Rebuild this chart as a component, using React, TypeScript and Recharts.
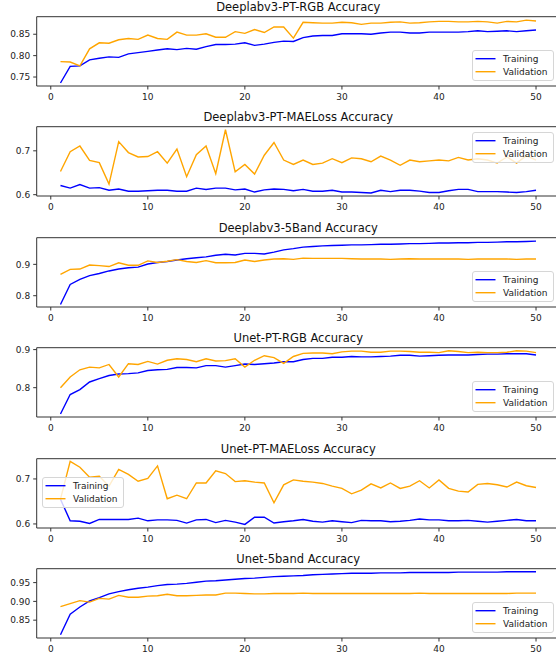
import { LineChart, Line, XAxis, YAxis, Legend, Label, ReferenceLine } from "recharts";

const EPOCHS = [1, 2, 3, 4, 5, 6, 7, 8, 9, 10, 11, 12, 13, 14, 15, 16, 17, 18, 19, 20, 21, 22, 23, 24, 25,
  26, 27, 28, 29, 30, 31, 32, 33, 34, 35, 36, 37, 38, 39, 40, 41, 42, 43, 44, 45, 46, 47, 48, 49, 50];
const X_TICKS = [0, 10, 20, 30, 40, 50];

const deeplabRgbTrain = [0.736, 0.775, 0.776, 0.790, 0.794, 0.797, 0.796, 0.804, 0.807, 0.810,
  0.813, 0.816, 0.814, 0.817, 0.815, 0.821, 0.826, 0.826, 0.827, 0.830,
  0.824, 0.827, 0.831, 0.834, 0.833, 0.842, 0.846, 0.847, 0.847, 0.851,
  0.851, 0.851, 0.850, 0.853, 0.855, 0.855, 0.853, 0.853, 0.855, 0.855,
  0.855, 0.855, 0.856, 0.858, 0.856, 0.857, 0.858, 0.856, 0.858, 0.860];
const deeplabRgbVal = [0.786, 0.785, 0.776, 0.816, 0.830, 0.829, 0.837, 0.840, 0.838, 0.848,
  0.840, 0.838, 0.855, 0.848, 0.848, 0.851, 0.843, 0.843, 0.856, 0.852,
  0.861, 0.854, 0.867, 0.867, 0.841, 0.878, 0.877, 0.876, 0.876, 0.878,
  0.877, 0.873, 0.876, 0.876, 0.878, 0.879, 0.876, 0.877, 0.879, 0.880,
  0.880, 0.879, 0.879, 0.880, 0.879, 0.876, 0.880, 0.879, 0.883, 0.881];

const deeplabMaeTrain = [0.621, 0.615, 0.623, 0.615, 0.616, 0.610, 0.613, 0.608, 0.608, 0.609,
  0.610, 0.610, 0.608, 0.608, 0.615, 0.612, 0.615, 0.615, 0.611, 0.613,
  0.606, 0.611, 0.613, 0.612, 0.609, 0.612, 0.608, 0.608, 0.610, 0.606,
  0.606, 0.605, 0.604, 0.610, 0.607, 0.610, 0.610, 0.608, 0.605, 0.605,
  0.609, 0.612, 0.612, 0.607, 0.607, 0.607, 0.606, 0.605, 0.607, 0.610];
const deeplabMaeVal = [0.653, 0.698, 0.711, 0.678, 0.673, 0.624, 0.721, 0.696, 0.686, 0.687,
  0.698, 0.672, 0.704, 0.641, 0.691, 0.711, 0.648, 0.748, 0.652, 0.669,
  0.647, 0.690, 0.719, 0.679, 0.669, 0.679, 0.669, 0.672, 0.682, 0.673,
  0.684, 0.682, 0.675, 0.688, 0.679, 0.667, 0.679, 0.675, 0.677, 0.679,
  0.677, 0.685, 0.679, 0.682, 0.679, 0.672, 0.686, 0.672, 0.689, 0.679];

const deeplab5Train = [0.772, 0.836, 0.852, 0.864, 0.871, 0.879, 0.885, 0.889, 0.891, 0.901,
  0.906, 0.909, 0.914, 0.918, 0.921, 0.924, 0.929, 0.932, 0.930, 0.935,
  0.935, 0.933, 0.939, 0.946, 0.950, 0.955, 0.957, 0.959, 0.960, 0.961,
  0.962, 0.962, 0.963, 0.964, 0.964, 0.965, 0.966, 0.966, 0.967, 0.968,
  0.968, 0.969, 0.969, 0.970, 0.970, 0.971, 0.972, 0.972, 0.973, 0.974];
const deeplab5Val = [0.868, 0.884, 0.885, 0.898, 0.896, 0.893, 0.905, 0.897, 0.897, 0.911,
  0.906, 0.910, 0.915, 0.909, 0.906, 0.912, 0.905, 0.905, 0.906, 0.914,
  0.909, 0.914, 0.917, 0.918, 0.916, 0.920, 0.919, 0.919, 0.919, 0.919,
  0.918, 0.917, 0.917, 0.917, 0.916, 0.917, 0.918, 0.917, 0.917, 0.917,
  0.917, 0.917, 0.916, 0.917, 0.917, 0.917, 0.917, 0.916, 0.917, 0.917];

const unetRgbTrain = [0.731, 0.782, 0.795, 0.815, 0.824, 0.832, 0.836, 0.837, 0.839, 0.845,
  0.847, 0.848, 0.853, 0.853, 0.852, 0.858, 0.858, 0.854, 0.858, 0.862,
  0.861, 0.863, 0.865, 0.868, 0.868, 0.874, 0.877, 0.877, 0.880, 0.880,
  0.882, 0.881, 0.881, 0.882, 0.883, 0.885, 0.885, 0.883, 0.884, 0.885,
  0.886, 0.886, 0.886, 0.887, 0.888, 0.888, 0.889, 0.889, 0.889, 0.886];
const unetRgbVal = [0.800, 0.828, 0.847, 0.854, 0.852, 0.861, 0.828, 0.863, 0.861, 0.869,
  0.862, 0.872, 0.876, 0.874, 0.868, 0.876, 0.870, 0.871, 0.876, 0.854,
  0.872, 0.884, 0.879, 0.864, 0.882, 0.890, 0.891, 0.891, 0.889, 0.894,
  0.896, 0.896, 0.893, 0.893, 0.896, 0.896, 0.895, 0.893, 0.893, 0.892,
  0.897, 0.895, 0.892, 0.893, 0.892, 0.892, 0.893, 0.897, 0.896, 0.892];

const unetMaeTrain = [0.655, 0.607, 0.606, 0.601, 0.610, 0.610, 0.610, 0.610, 0.613, 0.607,
  0.609, 0.609, 0.608, 0.602, 0.609, 0.610, 0.603, 0.608, 0.604, 0.599,
  0.615, 0.615, 0.602, 0.605, 0.607, 0.610, 0.606, 0.604, 0.607, 0.605,
  0.603, 0.608, 0.607, 0.607, 0.605, 0.606, 0.608, 0.611, 0.609, 0.609,
  0.607, 0.607, 0.608, 0.606, 0.604, 0.606, 0.608, 0.610, 0.607, 0.607];
const unetMaeVal = [0.655, 0.739, 0.726, 0.704, 0.706, 0.684, 0.721, 0.710, 0.695, 0.701,
  0.729, 0.656, 0.664, 0.656, 0.691, 0.691, 0.718, 0.712, 0.694, 0.696,
  0.693, 0.691, 0.647, 0.687, 0.698, 0.695, 0.693, 0.690, 0.684, 0.679,
  0.667, 0.675, 0.689, 0.680, 0.691, 0.679, 0.684, 0.696, 0.680, 0.698,
  0.679, 0.673, 0.671, 0.688, 0.690, 0.687, 0.682, 0.693, 0.685, 0.681];

const unet5Train = [0.811, 0.866, 0.885, 0.901, 0.910, 0.920, 0.926, 0.931, 0.935, 0.938,
  0.942, 0.945, 0.946, 0.948, 0.951, 0.954, 0.955, 0.957, 0.959, 0.961,
  0.962, 0.964, 0.966, 0.967, 0.968, 0.969, 0.971, 0.972, 0.973, 0.974,
  0.975, 0.975, 0.975, 0.976, 0.976, 0.976, 0.977, 0.977, 0.977, 0.977,
  0.977, 0.978, 0.978, 0.978, 0.978, 0.978, 0.979, 0.979, 0.979, 0.979];
const unet5Val = [0.886, 0.894, 0.902, 0.898, 0.908, 0.906, 0.916, 0.911, 0.911, 0.914,
  0.915, 0.919, 0.915, 0.915, 0.916, 0.917, 0.917, 0.922, 0.922, 0.921,
  0.920, 0.920, 0.921, 0.921, 0.921, 0.922, 0.921, 0.921, 0.921, 0.921,
  0.921, 0.921, 0.921, 0.921, 0.921, 0.921, 0.921, 0.922, 0.921, 0.921,
  0.921, 0.921, 0.921, 0.921, 0.921, 0.921, 0.921, 0.922, 0.922, 0.922];

const TITLES = ["Deeplabv3-PT-RGB Accuracy", "Deeplabv3-PT-MAELoss Accuracy", "Deeplabv3-5Band Accuracy",
  "Unet-PT-RGB Accuracy", "Unet-PT-MAELoss Accuracy", "Unet-5band Accuracy"];
const Y_TICKS = [[0.75, 0.8, 0.85], [0.6, 0.7], [0.8, 0.9], [0.8, 0.9], [0.6, 0.7], [0.85, 0.9, 0.95]];

const TRAIN_COLOR = "#0000ff";
const VAL_COLOR = "#ffa500";
const AXIS = "#333";
const PANEL_STEP = 110.46;

// per panel: series, y range, tick decimals, legend spot
const panels = [
  { train: deeplabRgbTrain, val: deeplabRgbVal, domain: [0.729, 0.891], dec: 2, legend: "lr" },
  { train: deeplabMaeTrain, val: deeplabMaeVal, domain: [0.597, 0.755], dec: 1, legend: "ur" },
  { train: deeplab5Train, val: deeplab5Val, domain: [0.764, 0.985], dec: 1, legend: "lr" },
  { train: unetRgbTrain, val: unetRgbVal, domain: [0.723, 0.905], dec: 1, legend: "lr" },
  { train: unetMaeTrain, val: unetMaeVal, domain: [0.591, 0.745], dec: 1, legend: "cl" },
  { train: unet5Train, val: unet5Val, domain: [0.8025, 0.987], dec: 2, legend: "lr" },
];

const legendSpot: Record<string, { left: number; top: number }> = {
  lr: { left: 471.7, top: 50 },
  ur: { left: 471.7, top: 22 },
  cl: { left: 41.7, top: 35.5 },
};

function LegendBox({ payload }: any) {
  return (
    <div style={{
      position: "relative", width: 82, height: 31, boxSizing: "border-box",
      border: "1px solid #d6d6d6", borderRadius: 3, background: "rgba(255,255,255,0.8)",
    }}>
      <svg width={82} height={31} style={{ position: "absolute", left: -1, top: -1 }}>
        {(payload || []).map((p: any, i: number) => (
          <g key={i}>
            <line x1={3.5} x2={23.5} y1={8.7 + i * 13} y2={8.7 + i * 13} stroke={p.color} strokeWidth={1.4} />
            <text x={31} y={8.7 + i * 13} dy="0.36em" fontSize={9} fill="#222">{p.value}</text>
          </g>
        ))}
      </svg>
    </div>
  );
}

function Panel({ idx }: { idx: number }) {
  const p = panels[idx];
  const rows = EPOCHS.map((e, i) => ({ epoch: e, train: p.train[i], val: p.val[i] }));
  const spot = legendSpot[p.legend];
  return (
    <div style={{ position: "absolute", left: 0, top: idx * PANEL_STEP, width: 570, height: 110 }}>
      <LineChart width={570} height={110} data={rows} margin={{ top: 16.7, right: 10.2, bottom: 0, left: 0 }}>
        <XAxis dataKey="epoch" type="number" domain={[-1.45, 52.45]} ticks={X_TICKS} allowDataOverflow
          height={24} tickSize={3.5} tickMargin={4.5} stroke={AXIS}
          tick={{ fontSize: 9, fill: "#222" }} interval={0} />
        <YAxis type="number" domain={p.domain} ticks={Y_TICKS[idx]} allowDataOverflow width={36.7}
          tickSize={3.5} tickMargin={3} stroke={AXIS} interval={0}
          tick={{ fontSize: 9, fill: "#222" }} tickFormatter={(v: number) => v.toFixed(p.dec)} />
        <ReferenceLine y={p.domain[1]} stroke={AXIS} strokeWidth={1} ifOverflow="visible">
          <Label value={TITLES[idx]} position="top" offset={5.5} fontSize={11.5} fill="#111" />
        </ReferenceLine>
        <Line dataKey="train" name="Training" type="linear" stroke={TRAIN_COLOR} strokeWidth={1.4}
          dot={false} isAnimationActive={false} />
        <Line dataKey="val" name="Validation" type="linear" stroke={VAL_COLOR} strokeWidth={1.4}
          dot={false} isAnimationActive={false} />
        <Legend layout="horizontal" verticalAlign="middle" align="center" content={LegendBox}
          wrapperStyle={{ left: spot.left, top: spot.top, width: 82, height: 31 }} />
      </LineChart>
    </div>
  );
}

export default function App() {
  return (
    <div style={{
      position: "fixed", left: 0, top: 0, width: 556, height: 655, overflow: "hidden",
      background: "#fff", fontFamily: "'DejaVu Sans', sans-serif",
    }}>
      {panels.map((_, i) => <Panel key={i} idx={i} />)}
    </div>
  );
}
